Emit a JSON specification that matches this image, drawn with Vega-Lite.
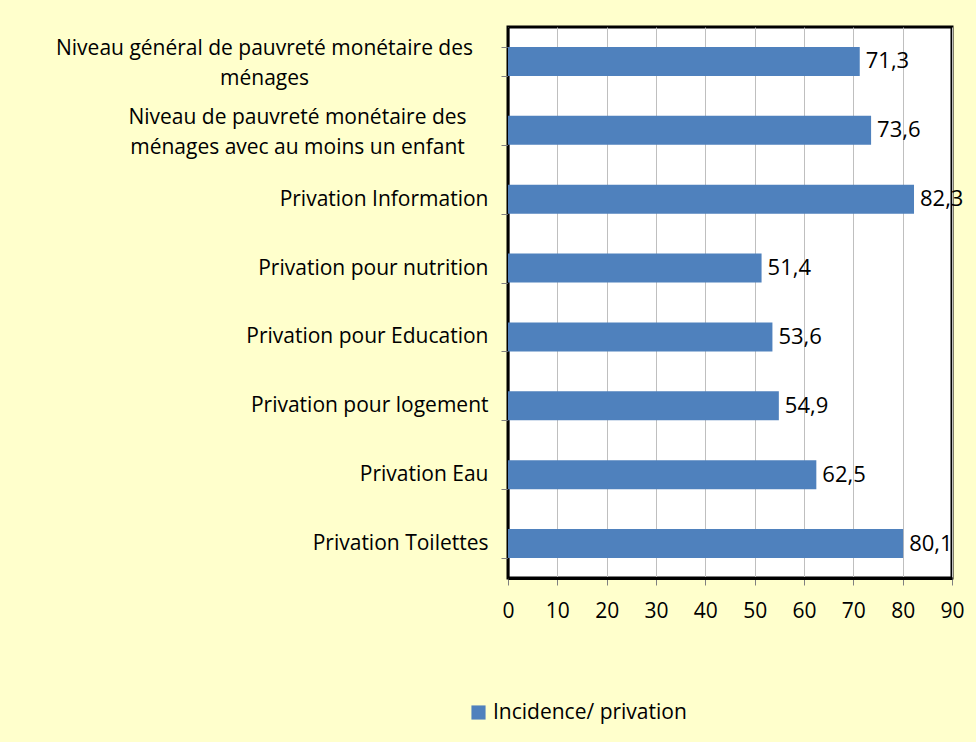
{
  "$schema": "https://vega.github.io/schema/vega-lite/v6.json",
  "autosize": "none",
  "width": 444,
  "height": 551,
  "padding": {"left": 508, "top": 27, "right": 24, "bottom": 164},
  "background": "#FFFFCC",
  "config": {
    "font": "Open Sans",
    "locale": {"number": {"decimal": ",", "thousands": " ", "grouping": [3], "currency": ["", " €"]}},
    "view": {"fill": "white", "stroke": "black", "strokeWidth": 3}
  },
  "data": {"values": [
    {"categorie": "Niveau général de pauvreté monétaire des|ménages", "valeur": 71.3},
    {"categorie": "Niveau de pauvreté monétaire des|ménages avec au moins un enfant", "valeur": 73.6},
    {"categorie": "Privation Information", "valeur": 82.3},
    {"categorie": "Privation pour nutrition", "valeur": 51.4},
    {"categorie": "Privation pour Education", "valeur": 53.6},
    {"categorie": "Privation pour logement", "valeur": 54.9},
    {"categorie": "Privation Eau", "valeur": 62.5},
    {"categorie": "Privation Toilettes", "valeur": 80.1}
  ]},
  "encoding": {
    "y": {
      "field": "categorie", "type": "nominal", "sort": null,
      "scale": {"paddingInner": 0.58, "paddingOuter": 0.29},
      "axis": {
        "title": null, "labelExpr": "isString(datum.value) ? split(datum.value, '|') : ''",
        "labelFontSize": 21, "labelColor": "black",
        "labelPadding": {"condition": [
          {"test": "isString(datum.value) && indexof(datum.value, 'général') >= 0", "value": 237},
          {"test": "isString(datum.value) && indexof(datum.value, 'enfant') >= 0", "value": 204}
        ], "value": 13},
        "labelAlign": {"condition": {"test": "isString(datum.value) && indexof(datum.value, '|') >= 0", "value": "center"}, "value": "right"},
        "labelOffset": {"condition": {"test": "isString(datum.value) && indexof(datum.value, '|') >= 0", "value": -13}, "value": 0},
        "labelLimit": 600, "tickBand": "extent", "tickColor": "#808080",
        "tickSize": 7, "domainColor": "black", "domainWidth": 1.5,
        "labelLineHeight": 30
      }
    }
  },
  "layer": [
    {
      "mark": {"type": "bar"},
      "encoding": {
        "x": {
          "field": "valeur", "type": "quantitative",
          "scale": {"domain": [0, 90], "nice": false},
          "axis": {
            "title": null, "values": [0,10,20,30,40,50,60,70,80,90],
            "labelFontSize": 21, "labelColor": "black", "labelPadding": 15,
            "labelFlush": false,
            "tickSize": 7, "tickColor": "#808080", "gridColor": "#BFBFBF",
            "gridWidth": 1, "domainColor": "black", "domainWidth": 3
          }
        },
        "color": {
          "datum": "Incidence/ privation",
          "scale": {"range": ["#4F81BD"]},
          "legend": {
            "title": null, "orient": "none", "legendX": -40, "legendY": 675,
            "symbolType": "square", "symbolSize": 200, "symbolStrokeWidth": 0,
            "labelFontSize": 21, "labelColor": "black", "padding": 0, "labelLimit": 400
          }
        }
      }
    },
    {
      "mark": {"type": "text", "align": "left", "dx": 6, "fontSize": 22, "color": "black"},
      "encoding": {
        "x": {"field": "valeur", "type": "quantitative"},
        "text": {"field": "valeur", "type": "quantitative", "format": ".1f"}
      }
    }
  ]
}
